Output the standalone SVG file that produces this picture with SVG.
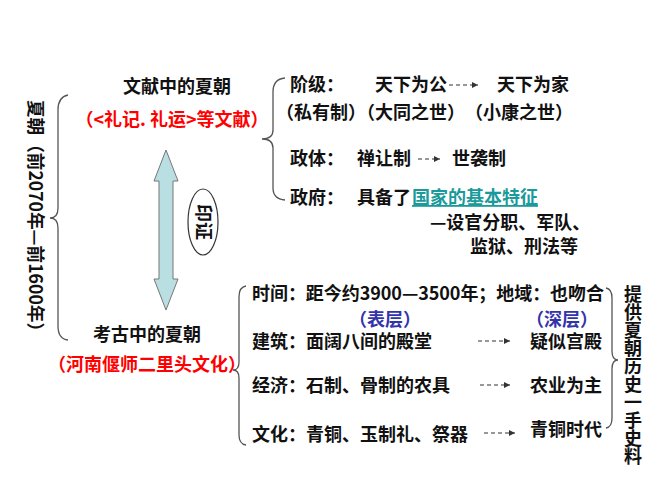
<svg xmlns="http://www.w3.org/2000/svg" width="667" height="500" viewBox="0 0 667 500">
<style>
text{font-family:"Noto Sans CJK SC","Liberation Sans",sans-serif;font-size:18px;font-weight:bold;fill:#111}
.r{fill:#ff0000}
.b{fill:#3333aa}
.t{fill:#1a9a9a;text-decoration:underline}
.v{writing-mode:tb}
.br{fill:none;stroke:#555;stroke-width:1.3}
.da{stroke:#333;stroke-width:1.2;stroke-dasharray:4 3;fill:none;marker-end:url(#ah)}
</style>
<defs><marker id="ah" markerWidth="6" markerHeight="6" refX="5" refY="3" orient="auto"><path d="M0,0.5 L5,3 L0,5.5" fill="#333"/></marker></defs>
<rect width="667" height="500" fill="#fff"/>
<g id="xia"><text transform="translate(29,220) rotate(90)" text-anchor="middle" textLength="240" lengthAdjust="spacingAndGlyphs">夏朝（前2070年—前1600年）</text></g>
<g id="wenxian"><text x="177" y="93" text-anchor="middle">文献中的夏朝</text><text class="r" x="172" y="126" text-anchor="middle">（&lt;礼记. 礼运&gt;等文献）</text></g>
<g id="kaogu"><text x="147" y="341" text-anchor="middle">考古中的夏朝</text><text class="r" x="147" y="371" text-anchor="middle">（河南偃师二里头文化）</text></g>
<g id="yinzheng"><ellipse cx="203" cy="222" rx="15" ry="33" fill="#fff" stroke="#333" stroke-width="1.2"/><text transform="translate(197,222) rotate(90)" text-anchor="middle" font-size="16" font-weight="normal">印证</text></g>
<g id="arrow2"><path d="M166,150 L178,181 L173,181 L173,279 L178,279 L166,310 L154,279 L159,279 L159,181 L154,181 Z" fill="#b9dfe2" stroke="#777" stroke-width="1"/></g>
<g id="braces">
<path class="br" d="M68,95 Q58,97 58,110 L58,208 Q58,218 50,218 Q58,218 58,228 L58,326 Q58,339 68,340"/>
<path class="br" d="M285,78 Q273,79 273,92 L273,130 Q273,139 262,139 Q273,139 273,148 L273,188 Q273,199 285,200"/>
<path class="br" d="M246,286 Q239,287 239,297 L239,362 Q239,370 233,370 Q239,370 239,378 L239,435 Q239,444 246,445"/>
<path class="br" d="M606,288 Q612,289 612,298 L612,351 Q612,360 618,360 Q612,360 612,369 L612,418 Q612,427 606,428"/>
</g>
<g id="wenxian-detail">
<text x="290" y="91">阶级：</text><text x="375" y="91">天下为公</text><text x="497" y="91">天下为家</text>
<text x="276" y="119" font-weight="normal">（私有制）（大同之世）　（小康之世）</text>
<text x="290" y="165">政体：</text><text x="357" y="165">禅让制</text><text x="452" y="165">世袭制</text>
<text x="290" y="204">政府：</text><text x="357" y="204">具备了</text><text class="t" x="412" y="204">国家的基本特征</text>
<text x="430" y="229" font-size="17">—设官分职、军队、</text><text x="470" y="253" font-size="17">监狱、刑法等</text>
</g>
<g id="kaogu-detail">
<text x="252" y="300" textLength="352">时间：距今约3900—3500年；地域：也吻合</text>
<text class="b" x="349" y="326" font-size="17">（表层）</text><text class="b" x="526" y="326" font-size="17">（深层）</text>
<text x="252" y="348">建筑：面阔八间的殿堂</text><text x="530" y="348">疑似宫殿</text>
<text x="252" y="392">经济：石制、骨制的农具</text><text x="530" y="392">农业为主</text>
<text x="252" y="441">文化：青铜、玉制礼、祭器</text><text x="530" y="436">青铜时代</text>
</g>
<g id="tigong"><text class="v" x="633" y="285" font-weight="normal">提供夏朝历史一手史料</text></g>
<g id="connectors">
<path class="da" d="M449,85 H478"/>
<path class="da" d="M418,159 H440"/>
<path class="da" d="M478,341 H510"/>
<path class="da" d="M480,385 H510"/>
<path class="da" d="M484,433 H515"/>
</g>
</svg>
